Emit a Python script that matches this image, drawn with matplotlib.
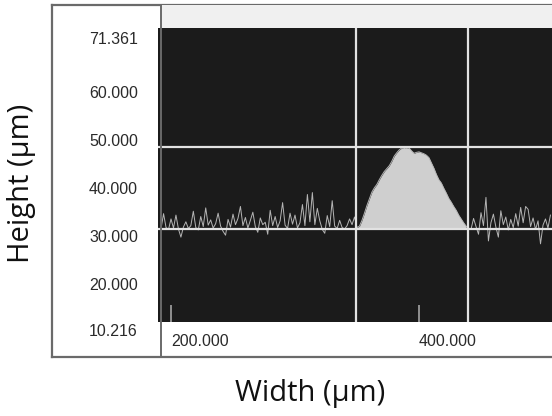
import numpy as np
import matplotlib
matplotlib.use('Agg')
import matplotlib.pyplot as plt
from matplotlib import font_manager
from matplotlib.patches import Rectangle
from matplotlib.lines import Line2D
from matplotlib.transforms import blended_transform_factory

# perfil medido (um), muestreo cada 2 um
ancho = np.arange(190, 508, 2)
altura = [
    # ruido a la izquierda (190..350)
    31.7, 31.8, 34.9, 32.0, 31.6, 33.8, 31.9, 34.6, 31.7, 30.0,
    32.1, 33.2, 31.8, 32.4, 35.4, 32.0, 31.5, 34.3, 32.2, 36.1,
    32.5, 33.6, 31.9, 32.8, 35.0, 32.3, 31.2, 30.4, 33.7, 32.1,
    34.8, 32.6, 33.9, 36.4, 32.4, 34.1, 31.9, 33.5, 35.2, 32.2,
    31.0, 34.0, 32.6, 33.1, 30.6, 35.6, 32.4, 34.3, 32.0, 33.4,
    37.2, 32.5, 31.8, 35.0, 32.7, 34.6, 31.9, 33.0, 36.8, 32.4,
    38.9, 33.2, 39.3, 32.6, 36.0, 33.4, 31.6, 30.8, 34.5, 32.2,
    37.6, 32.3, 31.8, 33.5, 32.0, 31.7, 32.4, 33.8, 32.6, 34.2,
    32.0,
    # pico (352..440)
    32.3, 33.5, 35.0, 36.6, 38.0, 39.4, 40.3, 41.0, 42.0, 42.9,
    43.7, 44.3, 44.9, 45.8, 46.9, 47.6, 48.2, 48.6, 48.7, 48.5,
    48.6, 48.0, 47.5, 47.7, 47.8, 47.6, 47.4, 47.1, 46.6, 45.5,
    44.4, 43.1, 42.0, 41.3, 40.2, 39.2, 38.1, 37.3, 36.4, 35.6,
    34.6, 33.8, 33.0, 32.3, 31.8,
    # ruido a la derecha (442..506)
    31.7, 33.9, 32.2, 30.6, 35.1, 32.4, 38.3, 29.2, 33.0, 34.8,
    32.1, 30.0, 35.5, 32.6, 34.2, 31.5, 33.7, 32.0, 34.9, 32.3,
    36.2, 33.0, 36.4, 35.8, 32.2, 34.0, 31.6, 33.4, 28.6, 32.5,
    33.8, 31.9, 34.6,
]
altura = np.array(altura)

base = 31.7
cursor_x = [349.2, 439.5]
cursor_y = [31.7, 48.8]
ticks_x = [200, 400]
etiquetas_x = ['200.000', '400.000']
valores_y = [71.361, 60, 50, 40, 30, 20, 10.216]
etiquetas_y = ['71.361', '60.000', '50.000', '40.000', '30.000', '20.000', '10.216']

W, H = 552, 416


def caja(l, t, r, b):
    return [l / W, 1 - b / H, (r - l) / W, (b - t) / H]


nombres = {f.name for f in font_manager.fontManager.ttflist}
if 'Liberation Sans Narrow' in nombres:
    fuente_ticks, tam_ticks = 'Liberation Sans Narrow', 14.5
else:
    fuente_ticks, tam_ticks = 'Liberation Sans', 11.5

fig = plt.figure(figsize=(W / 100, H / 100), dpi=100)

# marco exterior
marco = fig.add_axes(caja(52, 5, 600, 357))
marco.set_facecolor('white')
marco.set_xticks([])
marco.set_yticks([])
for s in marco.spines.values():
    s.set_color('#6a6a6a')
    s.set_linewidth(1.6)

fig.add_artist(Rectangle((161 / W, 1 - 28 / H), 1, 23 / H, transform=fig.transFigure,
                         facecolor='#f0f0f0', edgecolor='none'))
fig.add_artist(Line2D([161 / W, 161 / W], [1 - 357 / H, 1 - 5 / H], transform=fig.transFigure,
                      color='#6a6a6a', lw=1.4))

# zona de datos
ax = fig.add_axes(caja(158, 28, 560, 322))
ax.set_facecolor('#1b1b1b')
px_x = 1.24   # px por um
px_y = 4.79   # px por um
ax.set_xlim(200 - (171 - 158) / px_x, 200 + (560 - 171) / px_x)
ax.set_ylim(71.361 - (322 - 39) / px_y, 71.361 + (39 - 28) / px_y)
for s in ax.spines.values():
    s.set_visible(False)

# solo el pico (entre cursores) va relleno
en_pico = (ancho >= cursor_x[0]) & (ancho <= cursor_x[1])
ax.fill_between(ancho, base, altura, where=en_pico & (altura > base),
                color='#cfcfcf', lw=0, zorder=2)
ax.plot(ancho, altura, color='#b5b5b5', lw=0.7, zorder=3)

for cx in cursor_x:
    ax.axvline(cx, color='#e2e2e2', lw=1.6, zorder=4)
for cy in cursor_y:
    ax.axhline(cy, color='#e2e2e2', lw=1.6, zorder=4)

ax.set_xticks(ticks_x, labels=etiquetas_x)
ax.tick_params(axis='x', direction='in', length=12.5, width=1.3, color='#9a9a9a',
               pad=9, labelsize=tam_ticks, labelcolor='#2a2a2a')
for lbl in ax.get_xticklabels():
    lbl.set_ha('left')
    lbl.set_fontfamily(fuente_ticks)
ax.set_yticks([])

trans = blended_transform_factory(ax.transAxes, ax.transData)
x_lbl = (138 - 158) / (560 - 158)
for v, t in zip(valores_y, etiquetas_y):
    ax.text(x_lbl, v, t, transform=trans, ha='right', va='center',
            fontsize=tam_ticks, family=fuente_ticks, color='#2a2a2a', clip_on=False)

fig.text(310 / W, 1 - 393 / H, 'Width (µm)', ha='center', va='center',
         fontsize=21, family='Open Sans', color='#111111')
fig.text(22 / W, 1 - 183 / H, 'Height (µm)', ha='center', va='center', rotation=90,
         fontsize=21, family='Open Sans', color='#111111')

fig.savefig('out.png', dpi=100)
